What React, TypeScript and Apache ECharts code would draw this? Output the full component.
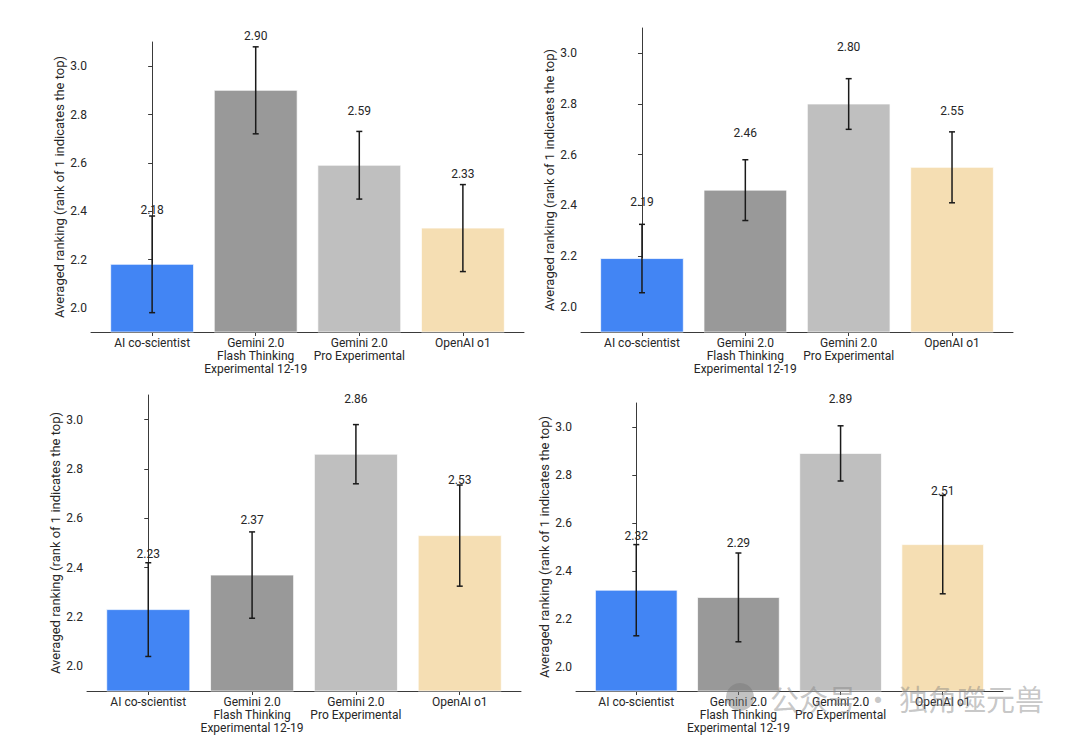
import React, { useEffect, useRef } from "react";
import * as echarts from "echarts";

const categories = [
  "AI co-scientist",
  "Gemini 2.0\nFlash Thinking\nExperimental 12-19",
  "Gemini 2.0\nPro Experimental",
  "OpenAI o1",
];
const barColors = ["#4285F4", "#999999", "#BFBFBF", "#F5DEB3"];
const yTicks = [2.0, 2.2, 2.4, 2.6, 2.8, 3.0];
const yMin = 1.9;
const yMax = 3.1;
const yName = "Averaged ranking (rank of 1 indicates the top)";

const values1 = [2.18, 2.9, 2.59, 2.33];
const errors1 = [0.2, 0.18, 0.14, 0.18];
const values2 = [2.19, 2.46, 2.8, 2.55];
const errors2 = [0.135, 0.12, 0.1, 0.14];
const values3 = [2.23, 2.37, 2.86, 2.53];
const errors3 = [0.19, 0.175, 0.12, 0.205];
const values4 = [2.32, 2.29, 2.89, 2.51];
const errors4 = [0.19, 0.185, 0.115, 0.205];

const panels = [
  { values: values1, errors: errors1, grid: { left: 91, right: 556, top: 42, bottom: 414 } },
  { values: values2, errors: errors2, grid: { left: 581, right: 67, top: 28, bottom: 414 } },
  { values: values3, errors: errors3, grid: { left: 87, right: 559, top: 395, bottom: 55 } },
  { values: values4, errors: errors4, grid: { left: 576, right: 77, top: 403, bottom: 55 } },
];

const FONT = "Roboto";
const TEXT = "#262626";
const AXIS = "#3a3a3a";

export default function App() {
  const ref = useRef<HTMLDivElement>(null);
  useEffect(() => {
    if (!ref.current) return;
    const chart = echarts.init(ref.current, null, { renderer: "svg" });
    const grids: any[] = [];
    const xAxes: any[] = [];
    const yAxes: any[] = [];
    const series: any[] = [];
    panels.forEach((p, k) => {
      grids.push({ ...p.grid, containLabel: false });
      xAxes.push({
        type: "value",
        gridIndex: k,
        min: -0.59,
        max: 3.59,
        splitLine: { show: false },
        axisLine: { show: true, lineStyle: { color: AXIS, width: 1 } },
        axisTick: { show: true, customValues: [0, 1, 2, 3], length: 4, lineStyle: { color: AXIS } },
        axisLabel: {
          customValues: [0, 1, 2, 3],
          formatter: (v: number) => categories[Math.round(v)] ?? "",
          fontFamily: FONT,
          fontSize: 12,
          lineHeight: 13,
          color: TEXT,
          margin: 4,
          align: "center",
          verticalAlign: "top",
        },
      });
      yAxes.push({
        type: "value",
        gridIndex: k,
        min: yMin,
        max: yMax,
        name: yName,
        nameLocation: "middle",
        nameGap: 23,
        nameTextStyle: { fontFamily: FONT, fontSize: 13, color: TEXT },
        splitLine: { show: false },
        axisLine: { show: true, lineStyle: { color: AXIS, width: 1 } },
        axisTick: { show: true, customValues: yTicks, length: 4, lineStyle: { color: AXIS } },
        axisLabel: {
          customValues: yTicks,
          formatter: (v: number) => v.toFixed(1),
          fontFamily: FONT,
          fontSize: 12,
          color: TEXT,
          margin: 4,
        },
      });
      const data = p.values.map((v, i) => [i, v, p.errors[i]]);
      series.push({
        type: "custom",
        xAxisIndex: k,
        yAxisIndex: k,
        data,
        encode: { x: 0, y: 1 },
        renderItem: (params: any, api: any) => {
          const i = api.value(0);
          const v = api.value(1);
          const e = api.value(2);
          const tl = api.coord([i - 0.4, v]);
          const br = api.coord([i + 0.4, yMin]);
          const errTop = api.coord([i, v + e]);
          const errBot = api.coord([i, v - e]);
          const lbl = api.coord([i, v + 0.2]);
          const cap = 3;
          return {
            type: "group",
            children: [
              {
                type: "rect",
                shape: { x: tl[0], y: tl[1], width: br[0] - tl[0], height: br[1] - tl[1] },
                style: { fill: barColors[i], stroke: "rgba(255,255,255,0.7)", lineWidth: 1 },
              },
              {
                type: "line",
                shape: { x1: errTop[0], y1: errTop[1], x2: errBot[0], y2: errBot[1] },
                style: { stroke: "#1a1a1a", lineWidth: 1.5 },
              },
              {
                type: "line",
                shape: { x1: errTop[0] - cap, y1: errTop[1], x2: errTop[0] + cap, y2: errTop[1] },
                style: { stroke: "#1a1a1a", lineWidth: 1.5 },
              },
              {
                type: "line",
                shape: { x1: errBot[0] - cap, y1: errBot[1], x2: errBot[0] + cap, y2: errBot[1] },
                style: { stroke: "#1a1a1a", lineWidth: 1.5 },
              },
              {
                type: "text",
                x: lbl[0],
                y: lbl[1],
                style: {
                  text: v.toFixed(2),
                  fontFamily: FONT,
                  fontSize: 12,
                  fill: TEXT,
                  align: "center",
                  verticalAlign: "bottom",
                },
              },
            ],
          };
        },
      });
    });
    chart.setOption({
      animation: false,
      backgroundColor: "#ffffff",
      grid: grids,
      xAxis: xAxes,
      yAxis: yAxes,
      series,
      graphic: [
        {
          type: "circle",
          shape: { cx: 740, cy: 697, r: 14 },
          style: { fill: "rgba(120,120,120,0.45)" },
          z: 100,
        },
        {
          type: "text",
          x: 770,
          y: 698,
          style: {
            text: "公众号 · 独角噬元兽",
            fontFamily: "Noto Sans CJK SC",
            fontSize: 29,
            fill: "rgba(130,130,130,0.45)",
            verticalAlign: "middle",
          },
          z: 100,
        },
      ],
    });
    return () => chart.dispose();
  }, []);
  return (
    <div
      ref={ref}
      style={{ position: "fixed", left: 0, top: 0, width: 1080, height: 746, background: "#fff" }}
    />
  );
}
